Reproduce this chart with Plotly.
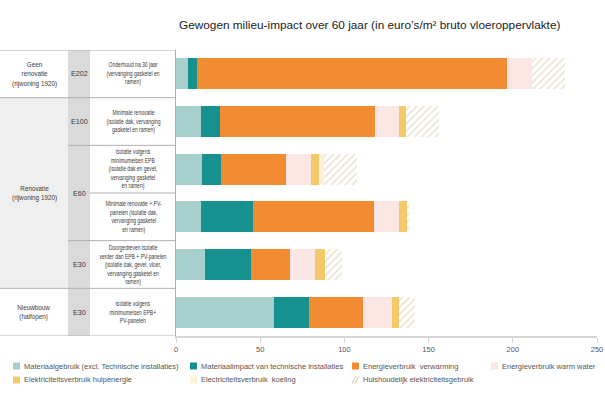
import plotly.graph_objects as go

# ---------------- data ----------------
scenario_ids = ["S1", "S2", "S3", "S4", "S5", "S6"]

series_names = [
    "Materiaalgebruik (excl. Technische installaties)",
    "Materiaalimpact van technische installaties",
    "Energieverbruik  verwarming",
    "Energieverbruik warm water",
    "Elektriciteitsverbruik hulpenergie",
    "Electriciteitsverbruik  koeling",
    "Huishoudelijk elektriciteitsgebruik",
]
materiaal = [7.3, 14.8, 15.6, 14.6, 17.4, 58.2]
technisch = [5.3, 11.2, 11.0, 31.4, 27.2, 20.9]
verwarming = [184.1, 92.2, 38.7, 71.4, 22.9, 31.7]
warm_water = [14.7, 14.3, 15.0, 15.0, 15.1, 17.2]
hulpenergie = [0.0, 4.0, 4.7, 4.9, 5.8, 4.5]
koeling = [0.0, 0.0, 3.0, 0.0, 0.0, 0.0]
huishoudelijk = [19.4, 19.7, 19.5, 1.2, 10.4, 9.5]

group_labels = ["Geen<br>renovatie<br>(rijwoning 1920)", "Renovatie<br>(rijwoning 1920)", "Nieuwbouw<br>(halfopen)"]
group_spans = [(0, 0), (1, 4), (5, 5)]
e_labels = ["E202", "E100", "E60", "E30", "E30"]
e_spans = [(0, 0), (1, 1), (2, 3), (4, 4), (5, 5)]
descriptions = [
    "Onderhoud na 30 jaar<br>(vervanging gasketel en<br>ramen)",
    "Minimale renovatie<br>(isolatie dak, vervanging<br>gasketel en ramen)",
    "Isolatie volgens<br>minimumeisen EPB<br>(isolatie dak en gevel,<br>vervanging gasketel<br>en ramen)",
    "Minimale renovatie + PV-<br>panelen (isolatie dak,<br>vervanging gasketel<br>en ramen)",
    "Doorgedreven isolatie<br>verder dan EPB + PV-panelen<br>(isolatie dak, gevel, vloer,<br>vervanging gasketel en<br>ramen)",
    "Isolatie volgens<br>minimumeisen EPB+<br>PV-panelen",
]
x_ticks = [0, 50, 100, 150, 200, 250]
title_text = "Gewogen milieu-impact over 60 jaar (in euro\u2019s/m\u00b2 bruto vloeroppervlakte)"

# ---------------- styling ----------------
colors = ["#a7d0cc", "#17918f", "#f28c32", "#fce6e3", "#f4c96a", "#fdf1d8", "#ffffff"]
HATCH = "#d5c5a0"
FONT = "Liberation Sans, Arial, sans-serif"
TXT = "#3a3a3a"
LINE = "#b0b0b0"

W, H = 605, 394
L, R, T, B = 176, 8, 50, 58
PW, PH = W - L - R, H - T - B


def px(xp):
    return (xp - L) / PW


def py(yp):
    return (H - B - yp) / PH


values = [materiaal, technisch, verwarming, warm_water, hulpenergie, koeling, huishoudelijk]
ypos = list(range(len(scenario_ids)))

fig = go.Figure()
for i, (name, vals) in enumerate(zip(series_names, values)):
    marker = dict(color=colors[i], line=dict(width=0))
    if i == 6:
        marker["pattern"] = dict(shape="/", fgcolor=HATCH, bgcolor="#ffffff", size=5, solidity=0.3)
    fig.add_trace(go.Bar(
        y=ypos, x=vals, orientation="h", name=name, marker=marker,
        width=0.65, showlegend=False, hoverinfo="x+name",
    ))

shapes = []
annotations = []

# table background shading
shapes.append(dict(type="rect", xref="paper", yref="y", x0=px(68), x1=px(90), y0=-0.5, y1=5.5,
                   fillcolor="#dadada", line=dict(width=0), layer="below"))
shapes.append(dict(type="rect", xref="paper", yref="y", x0=px(0), x1=px(68), y0=0.5, y1=4.5,
                   fillcolor="#efefef", line=dict(width=0), layer="below"))

# horizontal table lines
hlines = [(-0.5, 0), (0.5, 0), (1.5, 68), (2.5, 90), (3.5, 68), (4.5, 0), (5.5, 0)]
for yv, x0 in hlines:
    shapes.append(dict(type="line", xref="paper", yref="y", x0=px(x0), x1=px(L), y0=yv, y1=yv,
                       line=dict(color=LINE, width=1)))

# table text (indices 0-2 groups, 3-7 E-levels, 8-13 descriptions)
for lab, (a, b) in zip(group_labels, group_spans):
    annotations.append(dict(xref="paper", yref="y", x=px(34), y=(a + b) / 2, text=lab, showarrow=False,
                            xanchor="center", yanchor="middle",
                            font=dict(family=FONT, size=7.2, color=TXT), align="center"))
for lab, (a, b) in zip(e_labels, e_spans):
    annotations.append(dict(xref="paper", yref="y", x=px(79), y=(a + b) / 2, text=lab, showarrow=False,
                            xanchor="center", yanchor="middle",
                            font=dict(family=FONT, size=7.2, color=TXT), align="center"))
for i, d in enumerate(descriptions):
    annotations.append(dict(xref="paper", yref="y", x=px(133), y=i, text=d, showarrow=False,
                            xanchor="center", yanchor="middle",
                            font=dict(family=FONT, size=6.6, color=TXT), align="center"))

# title
annotations.append(dict(xref="paper", yref="paper", x=px(177), y=py(25), xanchor="left", yanchor="middle",
                        text=title_text, showarrow=False,
                        font=dict(family=FONT, size=11.8, color="#222")))

# manual legend
leg_pos = [(13, 366), (190, 366), (352, 366), (491, 366), (13, 380), (190, 380), (352, 380)]
for i, (name, (lx, ly)) in enumerate(zip(series_names, leg_pos)):
    if i < 6:
        shapes.append(dict(type="rect", xref="paper", yref="paper", x0=px(lx), x1=px(lx + 7),
                           y0=py(ly + 3.5), y1=py(ly - 3.5), fillcolor=colors[i], line=dict(width=0)))
    else:
        for off in (0, 3):
            shapes.append(dict(type="line", xref="paper", yref="paper", x0=px(lx + off), x1=px(lx + off + 4),
                               y0=py(ly + 3.5), y1=py(ly - 3.5), line=dict(color=HATCH, width=1)))
    annotations.append(dict(xref="paper", yref="paper", x=px(lx + 9), y=py(ly), xanchor="left", yanchor="middle",
                            text=name, showarrow=False, font=dict(family=FONT, size=7.5, color="#555")))

fig.update_layout(
    width=W, height=H,
    margin=dict(l=L, r=R, t=T, b=B, pad=0, autoexpand=False),
    barmode="stack",
    bargap=0.35,
    plot_bgcolor="white", paper_bgcolor="white",
    shapes=shapes, annotations=annotations,
    showlegend=False,
    xaxis=dict(range=[0, 250], tickvals=x_ticks, showgrid=False, zeroline=False, automargin=False,
               showline=True, linecolor="#d4d4d4", linewidth=1.5,
               ticks="outside", ticklen=5, tickcolor="#d4d4d4", tickwidth=1,
               tickfont=dict(family=FONT, size=7.5, color="#555"), fixedrange=True),
    yaxis=dict(range=[5.5, -0.5], showticklabels=False, showgrid=False, zeroline=False, automargin=False,
               showline=True, linecolor=LINE, linewidth=1, ticks="", fixedrange=True),
)

post_js = """
document.body.style.margin='0';
document.body.style.padding='0';
var gd = document.getElementById('{plot_id}');
gd.querySelectorAll('g.annotation').forEach(function(g){
  var idx = parseInt(g.getAttribute('data-index'));
  var t = g.querySelector('text.annotation-text');
  if (!t) { return; }
  var s = null;
  if (idx >= 8 && idx < 14) { s = 0.76; }
  else if (idx >= 0 && idx < 3) { s = 0.88; }
  if (s !== null) {
    t.style.transformBox = 'fill-box';
    t.style.transformOrigin = 'center';
    t.style.transform = 'scaleX(' + s + ')';
  }
});
"""

fig.write_html("out.html", config={"displayModeBar": False}, post_script=post_js)
